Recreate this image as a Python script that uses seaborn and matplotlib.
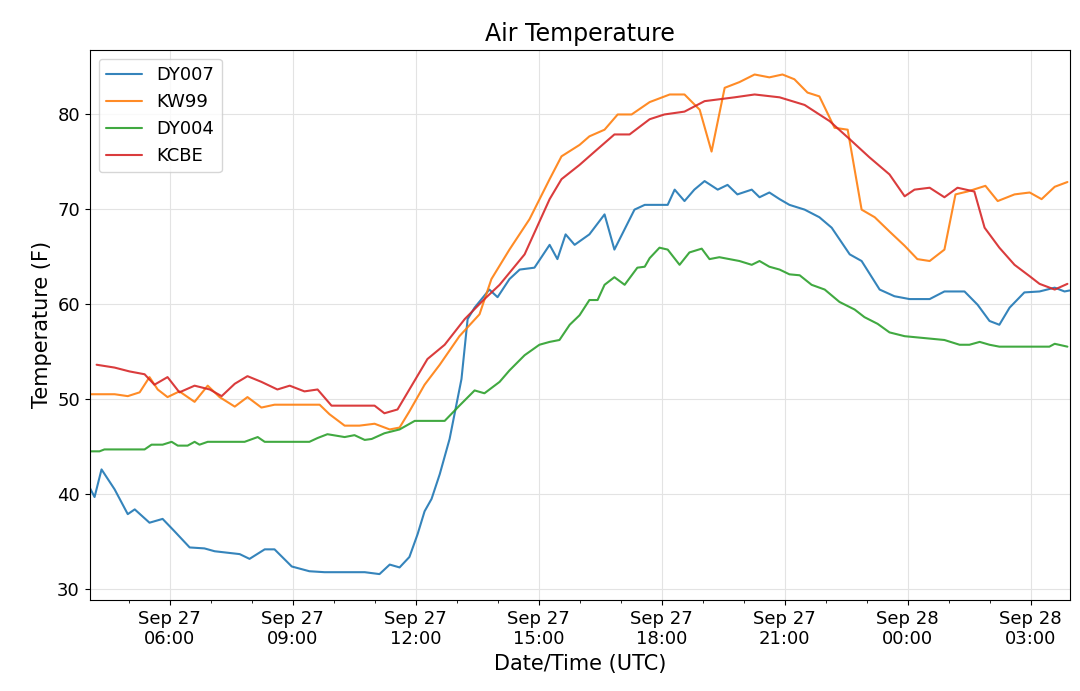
import pandas as pd
import matplotlib
matplotlib.use("Agg")
import matplotlib.pyplot as plt
import matplotlib.dates as mdates
import seaborn as sns

# -----------------------------
# Data (hours after Sep 27 00:00 UTC, temperature F)
# -----------------------------
dy007_h = [4.05, 4.17, 4.34, 4.66, 4.98, 5.15, 5.51, 5.83, 6.12, 6.49, 6.85, 7.10, 7.71, 7.95, 8.32, 8.56,
           8.98, 9.41, 9.78, 10.27, 10.76, 11.12, 11.37, 11.61, 11.85, 12.05, 12.22, 12.39, 12.59, 12.83,
           13.12, 13.27, 13.44, 13.80, 14.0, 14.29, 14.54, 14.90, 15.27, 15.46, 15.66, 15.88, 16.24, 16.61,
           16.85, 17.34, 17.59, 17.83, 18.15, 18.32, 18.56, 18.80, 19.05, 19.37, 19.61, 19.85, 20.20, 20.39,
           20.63, 20.88, 21.12, 21.49, 21.85, 22.15, 22.59, 22.88, 23.32, 23.68, 24.05, 24.54, 24.90, 25.39,
           25.71, 26.0, 26.24, 26.49, 26.85, 27.22, 27.59, 27.83, 27.95]
dy007_t = [40.7, 39.7, 42.6, 40.5, 37.9, 38.4, 37.0, 37.4, 36.1, 34.4, 34.3, 34.0, 33.7, 33.2, 34.2, 34.2,
           32.4, 31.9, 31.8, 31.8, 31.8, 31.6, 32.6, 32.3, 33.4, 35.8, 38.2, 39.5, 42.1, 45.8,
           52.1, 58.4, 59.6, 61.5, 60.7, 62.6, 63.6, 63.8, 66.2, 64.7, 67.3, 66.2, 67.3, 69.4,
           65.7, 69.9, 70.4, 70.4, 70.4, 72.0, 70.8, 72.0, 72.9, 72.0, 72.5, 71.5, 72.0, 71.2,
           71.7, 71.0, 70.4, 69.9, 69.1, 68.0, 65.2, 64.5, 61.5, 60.8, 60.5, 60.5, 61.3, 61.3,
           59.9, 58.2, 57.8, 59.6, 61.2, 61.3, 61.7, 61.3, 61.4]

kw99_h = [4.05, 4.66, 4.98, 5.27, 5.51, 5.71, 5.95, 6.24, 6.61, 6.93, 7.22, 7.59, 7.90, 8.24, 8.56, 8.93,
          9.66, 9.90, 10.27, 10.63, 11.0, 11.37, 11.61, 11.85, 12.22, 12.59, 13.07, 13.56, 13.85, 14.29,
          14.78, 15.27, 15.56, 16.0, 16.24, 16.61, 16.93, 17.27, 17.71, 18.20, 18.56, 18.93, 19.22, 19.54,
          19.90, 20.27, 20.63, 20.95, 21.24, 21.56, 21.85, 22.22, 22.54, 22.88, 23.20, 23.56, 23.93, 24.24,
          24.54, 24.90, 25.17, 25.46, 25.90, 26.20, 26.61, 26.98, 27.27, 27.59, 27.90]
kw99_t = [50.5, 50.5, 50.3, 50.7, 52.3, 51.0, 50.2, 50.8, 49.7, 51.4, 50.2, 49.2, 50.2, 49.1, 49.4, 49.4,
          49.4, 48.4, 47.2, 47.2, 47.4, 46.8, 47.0, 48.7, 51.5, 53.6, 56.6, 58.9, 62.6, 65.7,
          68.9, 73.1, 75.5, 76.7, 77.6, 78.3, 79.9, 79.9, 81.2, 82.0, 82.0, 80.4, 76.0, 82.7,
          83.3, 84.1, 83.8, 84.1, 83.6, 82.2, 81.8, 78.5, 78.3, 69.9, 69.1, 67.6, 66.1, 64.7,
          64.5, 65.7, 71.5, 71.8, 72.4, 70.8, 71.5, 71.7, 71.0, 72.3, 72.8]

dy004_h = [4.05, 4.29, 4.41, 5.39, 5.56, 5.83, 6.05, 6.20, 6.44, 6.61, 6.73, 6.93, 7.83, 8.15, 8.32, 9.41,
           9.61, 9.85, 10.27, 10.51, 10.76, 10.93, 11.24, 11.61, 11.98, 12.71, 13.07, 13.44, 13.68, 14.05,
           14.29, 14.66, 15.02, 15.27, 15.51, 15.76, 16.0, 16.24, 16.44, 16.61, 16.85, 17.10, 17.41, 17.59,
           17.71, 17.95, 18.15, 18.44, 18.68, 18.98, 19.17, 19.41, 19.90, 20.20, 20.39, 20.63, 20.88, 21.12,
           21.37, 21.66, 21.98, 22.34, 22.71, 22.95, 23.27, 23.56, 23.93, 24.90, 25.27, 25.51, 25.76, 26.0,
           26.24, 26.73, 27.46, 27.59, 27.90]
dy004_t = [44.5, 44.5, 44.7, 44.7, 45.2, 45.2, 45.5, 45.1, 45.1, 45.5, 45.2, 45.5, 45.5, 46.0, 45.5, 45.5,
           45.9, 46.3, 46.0, 46.2, 45.7, 45.8, 46.4, 46.8, 47.7, 47.7, 49.3, 50.9, 50.6, 51.8,
           53.0, 54.6, 55.7, 56.0, 56.2, 57.8, 58.8, 60.4, 60.4, 62.0, 62.8, 62.0, 63.8, 63.9,
           64.8, 65.9, 65.7, 64.1, 65.4, 65.8, 64.7, 64.9, 64.5, 64.1, 64.5, 63.9, 63.6, 63.1,
           63.0, 62.0, 61.5, 60.2, 59.4, 58.6, 57.9, 57.0, 56.6, 56.2, 55.7, 55.7, 56.0, 55.7,
           55.5, 55.5, 55.5, 55.8, 55.5]

kcbe_h = [4.22, 4.66, 5.02, 5.39, 5.63, 5.95, 6.24, 6.61, 6.98, 7.27, 7.59, 7.90, 8.24, 8.63, 8.93, 9.29,
          9.61, 9.95, 11.0, 11.24, 11.56, 12.29, 12.71, 13.20, 13.68, 14.05, 14.66, 15.27, 15.56, 16.0,
          16.37, 16.85, 17.22, 17.71, 18.07, 18.56, 19.05, 19.78, 20.27, 20.88, 21.49, 22.10, 22.59, 23.07,
          23.56, 23.93, 24.17, 24.54, 24.90, 25.22, 25.63, 25.88, 26.24, 26.61, 26.98, 27.22, 27.59, 27.90]
kcbe_t = [53.6, 53.3, 52.9, 52.6, 51.5, 52.3, 50.7, 51.4, 51.0, 50.3, 51.6, 52.4, 51.8, 51.0, 51.4, 50.8,
          51.0, 49.3, 49.3, 48.5, 48.9, 54.2, 55.7, 58.4, 60.5, 62.0, 65.2, 71.0, 73.1, 74.6,
          76.0, 77.8, 77.8, 79.4, 79.9, 80.2, 81.3, 81.7, 82.0, 81.7, 80.9, 79.2, 77.3, 75.4,
          73.6, 71.3, 72.0, 72.2, 71.2, 72.2, 71.8, 68.0, 65.9, 64.1, 62.9, 62.1, 61.5, 62.1]

base = pd.Timestamp("2019-09-27 00:00")

frames = []
for name, hh, tt in [("DY007", dy007_h, dy007_t), ("KW99", kw99_h, kw99_t),
                     ("DY004", dy004_h, dy004_t), ("KCBE", kcbe_h, kcbe_t)]:
    frames.append(pd.DataFrame({
        "time": base + pd.to_timedelta(hh, unit="h"),
        "temp": tt,
        "station": name,
    }))
df = pd.concat(frames, ignore_index=True)

# -----------------------------
# Plot
# -----------------------------
sns.set_style("ticks")
plt.rcParams["font.family"] = ["DejaVu Sans"]
plt.rcParams["text.color"] = "black"
plt.rcParams["axes.labelcolor"] = "black"
plt.rcParams["xtick.color"] = "black"
plt.rcParams["ytick.color"] = "black"
plt.rcParams["axes.edgecolor"] = "black"

fig = plt.figure(figsize=(10.8, 6.91), dpi=100)
ax = fig.add_axes([0.083, 0.132, 0.908, 0.796])

sns.lineplot(data=df, x="time", y="temp", hue="station", palette="tab10",
             linewidth=1.5, alpha=0.9, ax=ax, estimator=None, sort=False)

ax.set_xlim(base + pd.Timedelta(hours=4.05), base + pd.Timedelta(hours=27.97))
ax.set_ylim(28.9, 86.7)
ax.set_yticks([30, 40, 50, 60, 70, 80])

ax.xaxis.set_major_locator(mdates.HourLocator(byhour=[0, 3, 6, 9, 12, 15, 18, 21]))
ax.xaxis.set_minor_locator(mdates.HourLocator())
ax.xaxis.set_major_formatter(mdates.DateFormatter("%b %d\n%H:%M"))
ax.tick_params(axis="both", labelsize=13)
ax.grid(True, which="major", color="#e3e3e3", linewidth=0.8)

ax.set_title("Air Temperature", fontsize=17)
ax.set_xlabel("Date/Time (UTC)", fontsize=15)
ax.set_ylabel("Temperature (F)", fontsize=15)

leg = ax.legend(loc="upper left", fontsize=13, frameon=True)
leg.set_title(None)

fig.savefig("out.png", dpi=100)
plt.close()
